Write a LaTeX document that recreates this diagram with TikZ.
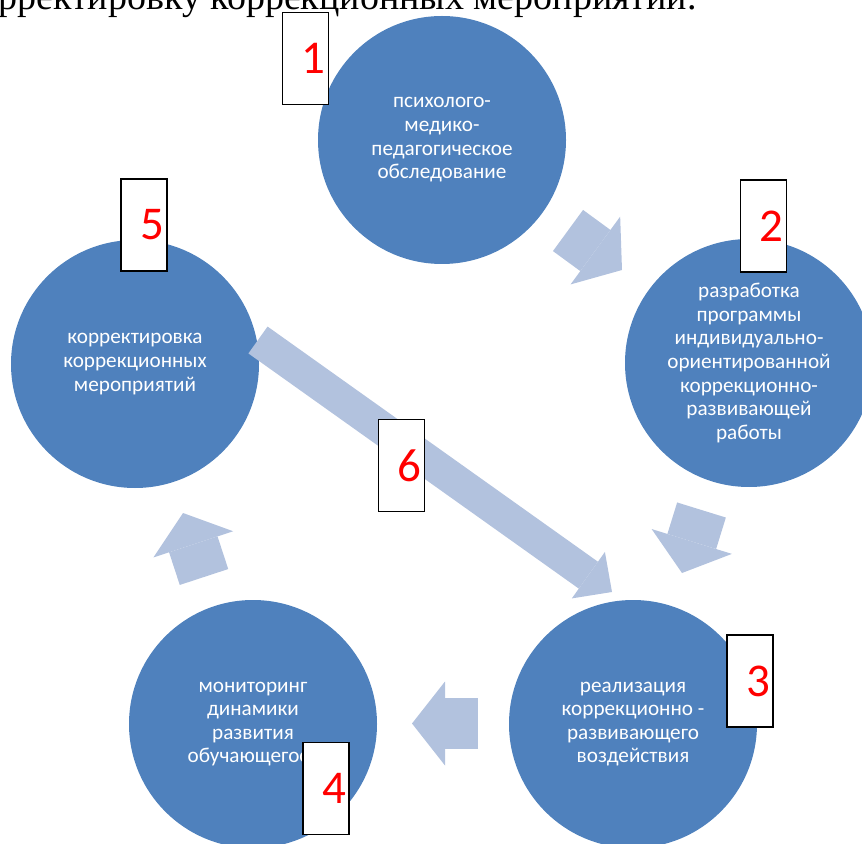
\documentclass[tikz,border=0pt]{standalone}
\usepackage{fontspec}
\setmainfont{Carlito}
\newfontfamily\headserif{Liberation Serif}
\usetikzlibrary{arrows.meta}
\definecolor{stageblue}{HTML}{4F81BD}
\definecolor{flowblue}{HTML}{B2C2DE}
\definecolor{numred}{HTML}{FF0000}

\begin{document}
\begin{tikzpicture}[x=0.5pt, y=-0.5pt,
    stage/.style={circle, fill=stageblue, text=white, align=center, inner sep=0pt,
                  minimum size=124pt, font=\fontsize{10.6}{11.8}\selectfont},
    num/.style={draw=black, line width=0.8pt, fill=white, text=numred, align=right,
                text width=20pt, inner xsep=1.5pt, minimum height=46pt,
                font=\fontsize{23.5}{28}\selectfont},
    arr/.style={flowblue, line width=25.5pt, -{Triangle[length=16.5pt, width=42pt, line width=0pt]}},
    bigarr/.style={arr, line width=16.5pt, -{Triangle[length=14.5pt, width=28.5pt, line width=0pt]}}]
  \clip (0,0) rectangle (862,844);
  \node[anchor=base east, inner sep=0pt, font=\headserif\fontsize{19}{22}\selectfont] (head) at (697,10)
       {корректировку коррекционных мероприятий.};

  % stages of the cycle
  \node[stage] (c1) at (442,140) {психолого-\\медико-\\педагогическое\\обследование};
  \node[stage] (c2) at (749,363) {разработка\\программы\\индивидуально-\\ориентированной\\коррекционно-\\развивающей\\работы};
  \node[stage] (c3) at (633,724) {реализация\\коррекционно -\\развивающего\\воздействия};
  \node[stage] (c4) at (253,724) {мониторинг\\динамики\\развития\\обучающегося};
  \node[stage] (c5) at (135,364) {корректировка\\коррекционных\\мероприятий};

  % arrow ends
  \coordinate (t12) at (568,230.5); \coordinate (h12) at (622,270);
  \coordinate (t23) at (701.5,510); \coordinate (h23) at (682,573);
  \coordinate (t34) at (478,723.5); \coordinate (h34) at (412,723.5);
  \coordinate (t45) at (204,577);   \coordinate (h45) at (183,513);
  \coordinate (t53) at (258,340);   \coordinate (h53) at (612,592);
  \draw[arr] (t12) -- (h12);
  \draw[arr] (t23) -- (h23);
  \draw[arr] (t34) -- (h34);
  \draw[arr] (t45) -- (h45);
  \draw[bigarr] (t53) -- (h53);

  % numbers
  \node[num] (b1) at (305.5,58.5) {1};
  \node[num] (b2) at (763.5,226) {2};
  \node[num] (b3) at (750,681) {3};
  \node[num] (b4) at (326,788.5) {4};
  \node[num] (b5) at (144,225) {5};
  \node[num] (b6) at (401.5,465.5) {6};
\end{tikzpicture}
\end{document}
